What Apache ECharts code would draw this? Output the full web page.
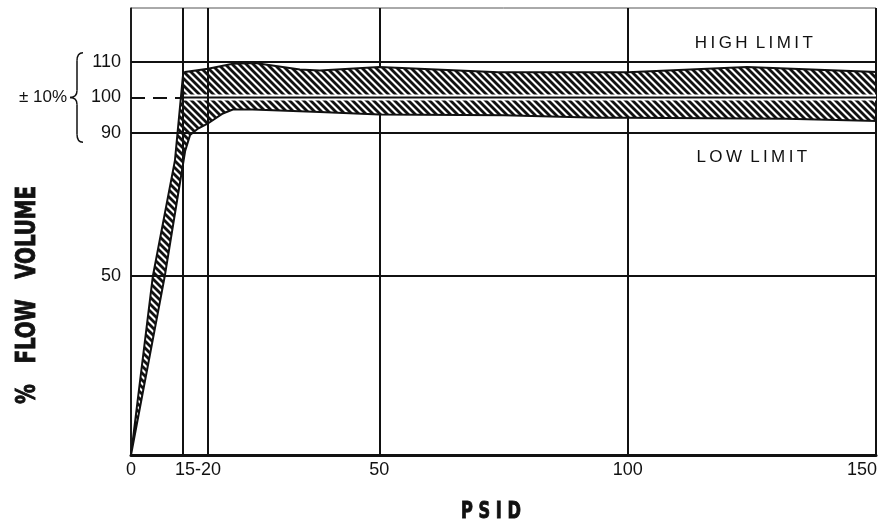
<!DOCTYPE html>
<html><head><meta charset="utf-8">
<script src="https://cdn.jsdelivr.net/npm/echarts@6/dist/echarts.min.js"></script>
<style>html,body{margin:0;padding:0;background:#fff}#c{width:881px;height:527px}</style>
</head><body><div id="c"></div>
<script>
// ---- data ----
const xTickValues = [0, 13.5, 50, 100, 150];
const xTickLabels = ['0', '15-20', '50', '100', '150'];
const yTickValues = [50, 90, 100, 110];
const yTickLabels = ['50', '90', '100', '110'];
const xLines = [10.5, 15.5];
const highLimit = 110, lowLimit = 90, nominal = 100, midLine = 50;
const upperX = [0, 4.4, 8.85, 10.5, 10.9, 15.5, 20.5, 25, 34, 38, 50, 74, 100, 124, 150];
const upperY = [0, 50, 82.4, 106.7, 107.1, 108, 109.4, 109.6, 107.8, 107.5, 108.5, 107, 107, 108.5, 107.1];
const lowerX = [0, 6.8, 10.9, 11.9, 13.5, 15.5, 18.5, 20.5, 24.5, 38, 50, 75, 94, 100, 132, 150];
const lowerY = [0, 50, 85, 89.5, 91.3, 92.7, 95.5, 96.6, 96.6, 95.9, 95.2, 95, 94.3, 94.3, 94, 93.4];
const xMin = 0, xMax = 150, yMin = 0, yMax = 125;

function makeHatch() {
  const s = 7, c = document.createElement('canvas');
  c.width = s; c.height = s;
  const g = c.getContext('2d');
  g.fillStyle = '#fff'; g.fillRect(0, 0, s, s);
  g.strokeStyle = '#111'; g.lineWidth = 2.8;
  for (let k = -1; k <= 1; k++) {
    g.beginPath(); g.moveTo(-1, k * s - 1); g.lineTo(s + 1, s + k * s + 1); g.stroke();
  }
  return c;
}
const hatch = makeHatch();
const chart = echarts.init(document.getElementById('c'), null, {renderer: 'canvas'});
const FONT = '"Liberation Sans", Arial, sans-serif';
const TFONT = '"DejaVu Sans Condensed", "DejaVu Sans", sans-serif';
const lblMap = {}; xTickValues.forEach((v, i) => lblMap[v] = xTickLabels[i]);
const ylblMap = {}; yTickValues.forEach((v, i) => ylblMap[v] = yTickLabels[i]);

const option = {
  animation: false,
  backgroundColor: '#fff',
  grid: {left: 131, right: 5, top: 8, bottom: 72, show: true, borderColor: '#555', borderWidth: 1},
  xAxis: {
    type: 'value', min: xMin, max: xMax, interval: 50,
    axisLine: {show: true, onZero: false, lineStyle: {color: '#111', width: 3}},
    axisTick: {show: false},
    splitLine: {show: true, lineStyle: {color: '#111', width: 2}},
    axisLabel: {
      customValues: xTickValues, color: '#111', fontFamily: FONT, fontSize: 18, margin: 6,
      formatter: v => v === xMax ? '{r|' + lblMap[v] + '}' : lblMap[v],
      rich: {r: {fontFamily: FONT, fontSize: 18, color: '#111', padding: [0, 28, 0, 0]}}
    }
  },
  yAxis: {
    type: 'value', min: yMin, max: yMax,
    axisLine: {show: true, lineStyle: {color: '#222', width: 1.5}},
    axisTick: {show: false},
    splitLine: {show: false},
    axisLabel: {customValues: yTickValues, color: '#111', fontFamily: FONT, fontSize: 18, margin: 10,
      formatter: v => ylblMap[v]}
  },
  series: [
    {
      type: 'line', data: [], silent: true, symbol: 'none',
      markLine: {
        silent: true, symbol: 'none', label: {show: false},
        lineStyle: {color: '#111', width: 2, type: 'solid'},
        data: [
          {yAxis: highLimit},
          {yAxis: lowLimit},
          {yAxis: midLine},
          {xAxis: xLines[0]},
          {xAxis: xLines[1]},
          [{coord: [xMin, nominal], lineStyle: {type: [14, 8], width: 2, color: '#111'}}, {coord: [xLines[0], nominal]}]
        ]
      }
    },
    {
      type: 'custom', coordinateSystem: 'cartesian2d', silent: true,
      data: [[0, 0]],
      renderItem: function (params, api) {
        const pts = [];
        for (let i = 0; i < upperX.length; i++) pts.push(api.coord([upperX[i], upperY[i]]));
        for (let i = lowerX.length - 1; i >= 0; i--) pts.push(api.coord([lowerX[i], lowerY[i]]));
        const a = api.coord([xLines[0], nominal]), b = api.coord([xMax, nominal]);
        return {type: 'group', children: [
          {type: 'polygon', shape: {points: pts}, style: {fill: {image: hatch, repeat: 'repeat'}, stroke: '#111', lineWidth: 2}},
          {type: 'line', shape: {x1: a[0], y1: a[1], x2: b[0], y2: b[1]}, style: {stroke: '#fff', lineWidth: 6}},
          {type: 'line', shape: {x1: a[0], y1: a[1], x2: b[0], y2: b[1]}, style: {stroke: '#111', lineWidth: 2}}
        ]};
      }
    }
  ]
};
chart.setOption(option);

function px(x, y) { return chart.convertToPixel({gridIndex: 0}, [x, y]); }
const pHigh = px(125.4, 115);
const pLow = px(125, 83.2);
const p110 = px(0, highLimit), p90 = px(0, lowLimit), p100 = px(0, nominal);
const left = p100[0];
const bx = left - 54, by1 = p110[1] - 9, by2 = p90[1] + 9, bm = p100[1];
const braceStyle = {stroke: '#111', lineWidth: 1.5, fill: null};
chart.setOption({
  graphic: [
    {type: 'text', x: pHigh[0], y: pHigh[1], style: {text: 'H\u2009I\u2009G\u2009H\u2009 L\u2009I\u2009M\u2009I\u2009T', font: '17px ' + FONT, fill: '#111', align: 'center', verticalAlign: 'middle'}},
    {type: 'text', x: pLow[0], y: pLow[1], style: {text: 'L\u2009O\u2009W\u2009 L\u2009I\u2009M\u2009I\u2009T', font: '17px ' + FONT, fill: '#111', align: 'center', verticalAlign: 'middle'}},
    {type: 'text', x: left - 64, y: bm, style: {text: '± 10%', font: '17px ' + FONT, fill: '#111', align: 'right', verticalAlign: 'middle'}},
    {type: 'bezierCurve', shape: {x1: bx + 6, y1: by1, cpx1: bx, cpy1: by1, x2: bx, y2: by1 + 8}, style: braceStyle},
    {type: 'line', shape: {x1: bx, y1: by1 + 8, x2: bx, y2: bm - 7}, style: braceStyle},
    {type: 'bezierCurve', shape: {x1: bx, y1: bm - 7, cpx1: bx, cpy1: bm, x2: bx - 7, y2: bm}, style: braceStyle},
    {type: 'bezierCurve', shape: {x1: bx - 7, y1: bm, cpx1: bx, cpy1: bm, x2: bx, y2: bm + 7}, style: braceStyle},
    {type: 'line', shape: {x1: bx, y1: bm + 7, x2: bx, y2: by2 - 8}, style: braceStyle},
    {type: 'bezierCurve', shape: {x1: bx, y1: by2 - 8, cpx1: bx, cpy1: by2, x2: bx + 6, y2: by2}, style: braceStyle},
    {type: 'text', x: 28, y: 295, rotation: Math.PI / 2, scaleX: 1.1, scaleY: 1.3,
      style: {text: '%   FLOW   VOLUME', font: 'bold 20px ' + TFONT, fill: '#111', stroke: '#111', lineWidth: 0.7, align: 'center', verticalAlign: 'middle'}},
    {type: 'text', x: 491, y: 512, scaleX: 1, scaleY: 1.3,
      style: {text: 'P S I D', font: 'bold 18px ' + TFONT, fill: '#111', stroke: '#111', lineWidth: 0.7, align: 'center', verticalAlign: 'middle'}}
  ]
});
</script></body></html>
